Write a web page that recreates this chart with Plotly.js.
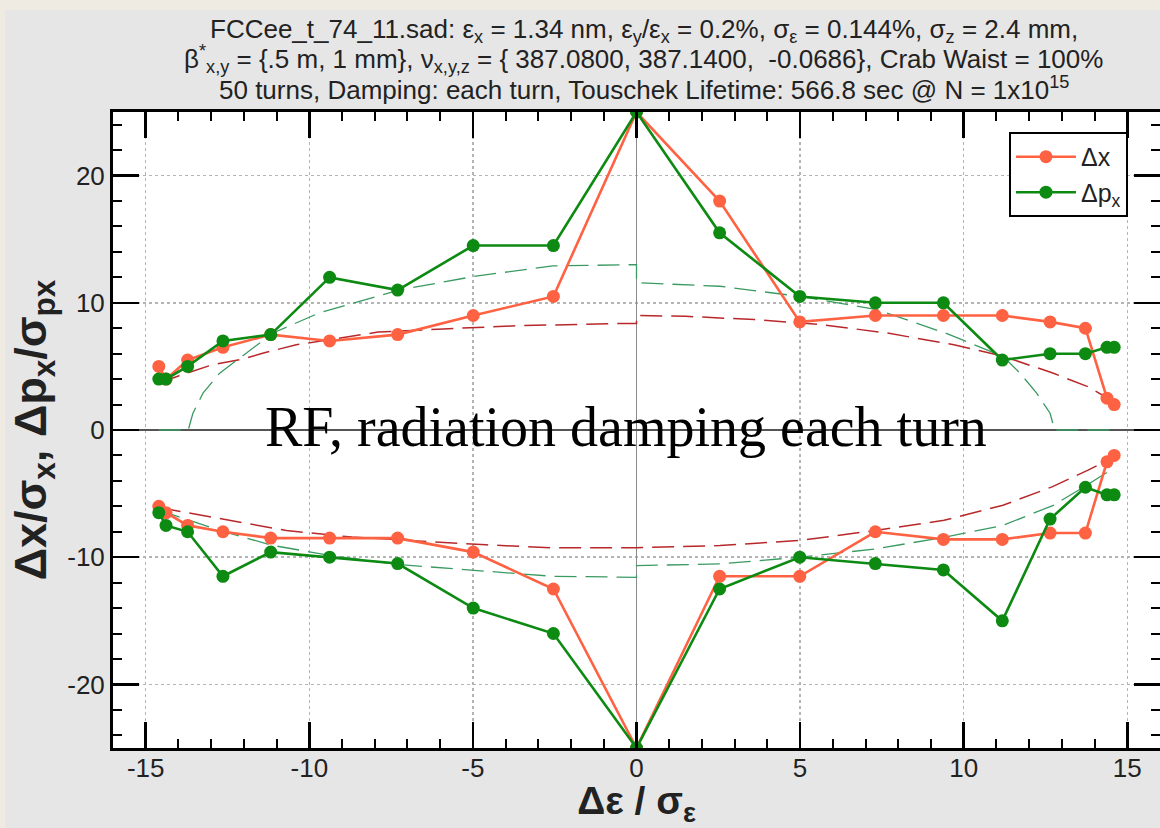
<!DOCTYPE html>
<html>
<head>
<meta charset="utf-8">
<script src="https://cdn.plot.ly/plotly-3.0.1.min.js"></script>
<style>
  html, body { margin: 0; padding: 0; width: 1160px; height: 828px; overflow: hidden;
    background: #efeae2; }
  #plot { position: absolute; left: 5px; top: 10px; width: 1155px; height: 818px; }
</style>
</head>
<body>
<div id="plot"></div>
<script>
// Energy offsets Δε/σε of the tracked particles
const xPts = [-14.6, -14.38, -13.72, -12.64, -11.18, -9.38, -7.3, -4.99, -2.54, 0,
              2.54, 4.99, 7.3, 9.38, 11.18, 12.64, 13.72, 14.38, 14.6];
// Δx/σx aperture, positive and negative side
const dxUpper  = [5.0, 4.0, 5.5, 6.5, 7.5, 7.0, 7.5, 9.0, 10.5, 25,
                  18.0, 8.5, 9.0, 9.0, 9.0, 8.5, 8.0, 2.5, 2.0];
const dxLower  = [-6.0, -6.5, -7.5, -8.0, -8.5, -8.5, -8.5, -9.6, -12.5, -25,
                  -11.5, -11.5, -8.0, -8.6, -8.6, -8.1, -8.1, -2.5, -2.0];
// Δpx/σpx aperture, positive and negative side
const dpxUpper = [4.0, 4.0, 5.0, 7.0, 7.5, 12.0, 11.0, 14.5, 14.5, 25,
                  15.5, 10.5, 10.0, 10.0, 5.5, 6.0, 6.0, 6.5, 6.5];
const dpxLower = [-6.5, -7.5, -8.0, -11.5, -9.6, -10.0, -10.5, -14.0, -16.0, -25,
                  -12.5, -10.0, -10.5, -11.0, -15.0, -7.0, -4.5, -5.1, -5.1];

// Dashed reference curves
const redUpX  = [-14.6, -14.0, -13.0, -12.0, -11.4, -10.4, -9.0, -7.9, -5.9, -3.6, -0.5, 0, 0,
                 1.5, 3.6, 5.6, 7.65, 9.7, 11.2, 12.7, 13.8, 14.6];
const redUpY  = [3.7, 4.25, 5.1, 5.6, 6.05, 6.7, 7.25, 7.7, 7.95, 8.2, 8.37, 8.37, 9.0,
                 8.94, 8.68, 8.3, 7.63, 6.7, 5.8, 4.5, 3.4, 2.2];
const redLowX = [-14.6, -12.7, -10.7, -8.7, -6.6, -4.6, -2.55, 0, 2.55, 5.0, 7.3, 9.4,
                 11.2, 12.7, 13.8, 14.5];
const redLowY = [-6.1, -6.97, -7.9, -8.42, -8.73, -9.03, -9.26, -9.26, -9.08, -8.68, -7.9,
                 -7.1, -5.92, -4.47, -3.16, -2.24];
const grnUpX  = [-14.6, -13.7, -13.56, -13.25, -12.74, -11.93, -11.11, -9.69, -7.26, -4.91,
                 -2.56, 0, 0, 2.55, 5.0, 7.34, 9.43, 11.2, 11.72, 12.23, 12.64, 12.78, 14.6];
const grnUpY  = [0, 0, 1.3, 2.9, 4.47, 6.05, 7.63, 9.21, 11.0, 12.1, 12.9, 13.0, 11.58,
                 11.3, 10.5, 9.47, 7.63, 5.79, 4.47, 2.9, 1.32, 0, 0];
const grnLowX = [-14.6, -12.74, -11.11, -9.33, -7.26, -4.91, -2.56, 0, 0, 2.55, 5.0, 7.34,
                 9.43, 11.2, 12.74, 13.76, 14.57];
const grnLowY = [-6.3, -7.9, -9.08, -9.87, -10.58, -11.05, -11.5, -11.58, -10.66, -10.53,
                 -10.0, -9.34, -8.42, -7.5, -5.92, -4.34, -3.03];

// Tick labels (plain hyphen minus as in the original)
const xTickVals = [-15, -10, -5, 0, 5, 10, 15];
const xTickText = ['-15', '-10', '-5', '0', '5', '10', '15'];
const yTickVals = [-20, -10, 0, 10, 20];
const yTickText = ['-20', '-10', '0', '10', '20'];

// Title lines
const titleLines = [
  'FCCee_t_74_11.sad: ε<sub>x</sub> = 1.34 nm, ε<sub>y</sub>/ε<sub>x</sub> = 0.2%, σ<sub>ε</sub> = 0.144%, σ<sub>z</sub> = 2.4 mm,',
  'β<sup>*</sup><sub>x,y</sub> = {.5 m, 1 mm}, ν<sub>x,y,z</sub> = { 387.0800, 387.1400,  -0.0686}, Crab Waist = 100%',
  '50 turns, Damping: each turn, Touschek Lifetime: 566.8 sec @ N = 1x10<sup>15</sup>'
];
const titleY = [1.1274, 1.0833, 1.0369];

const ORANGE = '#ff6242';
const GREEN = '#0c8a12';
const DRED = '#b8282a';
const DGRN = '#3a9a62';
const SANS = 'Liberation Sans, Arial, sans-serif';

function dashed(x, y, color, w) {
  return { x: x, y: y, type: 'scatter', mode: 'lines', showlegend: false, hoverinfo: 'skip',
           line: { color: color, width: w, dash: '22px,9px' } };
}
function series(x, y, color, name, show) {
  return { x: x, y: y, type: 'scatter', mode: 'lines+markers', name: name,
           legendgroup: name, showlegend: show,
           line: { color: color, width: 2.6 },
           marker: { color: color, size: 13 } };
}

const traces = [
  dashed(redUpX, redUpY, DRED, 1.5),
  dashed(redLowX, redLowY, DRED, 1.5),
  dashed(grnUpX, grnUpY, DGRN, 1.3),
  dashed(grnLowX, grnLowY, DGRN, 1.3),
  series(xPts, dxUpper, ORANGE, 'Δx', true),
  series(xPts, dxLower, ORANGE, 'Δx', false),
  series(xPts, dpxUpper, GREEN, 'Δp<sub>x</sub>', true),
  series(xPts, dpxLower, GREEN, 'Δp<sub>x</sub>', false)
];

const axisCommon = {
  showline: true, linecolor: 'black', linewidth: 3, mirror: 'ticks',
  ticks: 'inside', ticklen: 26, tickwidth: 2.5, tickcolor: 'black',
  showgrid: true, gridcolor: '#b4b4b4', gridwidth: 1.5, griddash: 'dot',
  tickfont: { family: SANS, size: 26, color: '#222' },
  tickmode: 'array', zeroline: true
};

const annotations = titleLines.map((t, i) => ({
  text: t, showarrow: false, xref: 'paper', yref: 'paper',
  x: 0.507, y: titleY[i], xanchor: 'center', yanchor: 'middle',
  font: { family: SANS, size: 26, color: '#222' }
}));
annotations.push({
  text: 'RF, radiation damping each turn', showarrow: false,
  x: -0.31, y: 0.2, xref: 'x', yref: 'y', xanchor: 'center', yanchor: 'middle',
  font: { family: 'Liberation Serif, Times New Roman, serif', size: 56, color: 'black' }
});

const layout = {
  width: 1155, height: 818,
  paper_bgcolor: '#e6e6e6', plot_bgcolor: 'white',
  margin: { l: 108, r: 0, t: 102, b: 80 },
  xaxis: Object.assign({}, axisCommon, {
    range: [-16, 16], tickvals: xTickVals, ticktext: xTickText,
    zerolinecolor: '#8a8a8a', zerolinewidth: 1.5, ticklabelstandoff: -5,
    minor: { dtick: 1, tick0: 0, ticks: 'inside', ticklen: 9, tickwidth: 2, tickcolor: 'black', showgrid: false },
    title: { text: 'Δε / σ<sub>ε</sub>', font: { family: SANS, size: 39, color: '#222', weight: 'bold' }, standoff: 7 }
  }),
  yaxis: Object.assign({}, axisCommon, {
    range: [-25, 25], tickvals: yTickVals, ticktext: yTickText,
    zerolinecolor: '#555', zerolinewidth: 2,
    minor: { dtick: 2, tick0: 0, ticks: 'inside', ticklen: 9, tickwidth: 2, tickcolor: 'black', showgrid: false },
    title: { text: 'Δx/σ<sub>x</sub>, Δp<sub>x</sub>/σ<sub>px</sub>', font: { family: SANS, size: 45, color: '#222', weight: 'bold' }, standoff: 12 }
  }),
  legend: {
    x: 0.9694, y: 0.9686, xanchor: 'right', yanchor: 'top',
    bgcolor: 'white', bordercolor: 'black', borderwidth: 2,
    font: { family: SANS, size: 25, color: '#222' },
    tracegroupgap: 0, itemwidth: 60
  },
  annotations: annotations,
  showlegend: true
};

Plotly.newPlot('plot', traces, layout, { displayModeBar: false, staticPlot: true });
</script>
</body>
</html>
